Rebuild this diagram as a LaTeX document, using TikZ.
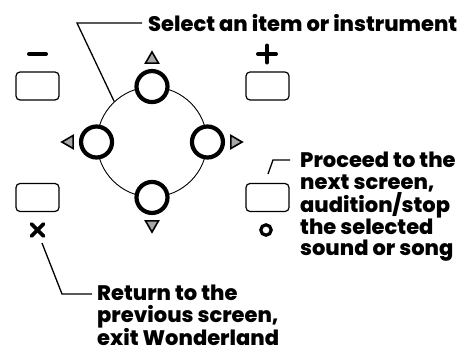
\documentclass[tikz,border=0pt]{standalone}
\usepackage{fontspec}
\setmainfont{Poppins}[BoldFont={Poppins ExtraBold}]
\usetikzlibrary{shapes.geometric, positioning, calc}

\begin{document}
\begin{tikzpicture}[
    x=1pt, y=-1pt,
    font=\fontsize{21}{21.5}\selectfont\bfseries,
    key/.style={
      draw=black, line width=1.2pt, rounded corners=4pt,
      minimum width=43pt, minimum height=28pt, inner sep=0pt
    },
    ring/.style={
      circle, draw=black, line width=4.2pt, fill=white,
      minimum size=31pt, inner sep=0pt
    },
    arrowtri/.style={
      regular polygon, regular polygon sides=3,
      draw=black, fill=gray!70, line width=1.6pt,
      minimum size=15pt, inner sep=0pt
    },
    sym/.style={line width=4pt, line cap=round},
    lead/.style={line width=1.3pt},
    note/.style={align=left, inner sep=0pt, anchor=north west}
  ]
  \useasboundingbox (0,0) rectangle (474,356);

  % ===== Dial with four rings =====
  \node[circle, draw=black, line width=0.9pt, minimum size=110pt, inner sep=0pt] (dial) at (152,142) {};
  \node[ring] (upring)    at (dial.north) {};
  \node[ring] (downring)  at (dial.south) {};
  \node[ring] (leftring)  at (dial.west)  {};
  \node[ring] (rightring) at (dial.east)  {};

  \node[arrowtri, above=5pt of upring]                                (uptri)    {};
  \node[arrowtri, shape border rotate=180, below=5pt of downring]     (downtri)  {};
  \node[arrowtri, shape border rotate=90, left=5pt of leftring]       (lefttri)  {};
  \node[arrowtri, shape border rotate=-90, right=5pt of rightring]    (righttri) {};

  % ===== Keys =====
  \node[key] (minuskey) at (37.5,86)  {};
  \node[key] (pluskey)  at (267.5,86) {};
  \node[key] (exitkey)  at (37.5,197.5) {};
  \node[key] (okkey)    at (267.5,197.5) {};

  \draw[sym] (29,54) -- (46,54);
  \draw[sym] (258,54) -- (276,54);
  \draw[sym] (267,45.5) -- (267,62.5);
  \draw[sym, line width=3.6pt] (31.5,224) -- (43.5,236);
  \draw[sym, line width=3.6pt] (43.5,224) -- (31.5,236);
  \draw[line width=3.2pt] (266,230) circle[radius=5.2];

  % ===== Labels =====
  \node[inner sep=0pt, anchor=west] (sel) at (148,23) {Select an item or instrument};
  \node[note] (proc) at (300,152) {Proceed to the\\next screen,\\audition/stop\\the selected\\sound or song};
  \node[note] (ret) at (97,285) {Return to the\\previous screen,\\exit Wonderland};

  % Leaders
  \coordinate (selknee) at (77,23);
  \draw[lead] ([xshift=-6pt]sel.west) -- (selknee) -- (dial.133);

  \coordinate (proctail) at (268,174);
  \coordinate (procknee) at (273,160);
  \coordinate (procend)  at (290,160);
  \draw[lead] (proctail) -- (procknee) -- (procend);

  \coordinate (rettail) at (42,243);
  \coordinate (retknee) at (62,294);
  \coordinate (retend)  at (92,294);
  \draw[lead] (rettail) -- (retknee) -- (retend);
\end{tikzpicture}
\end{document}
